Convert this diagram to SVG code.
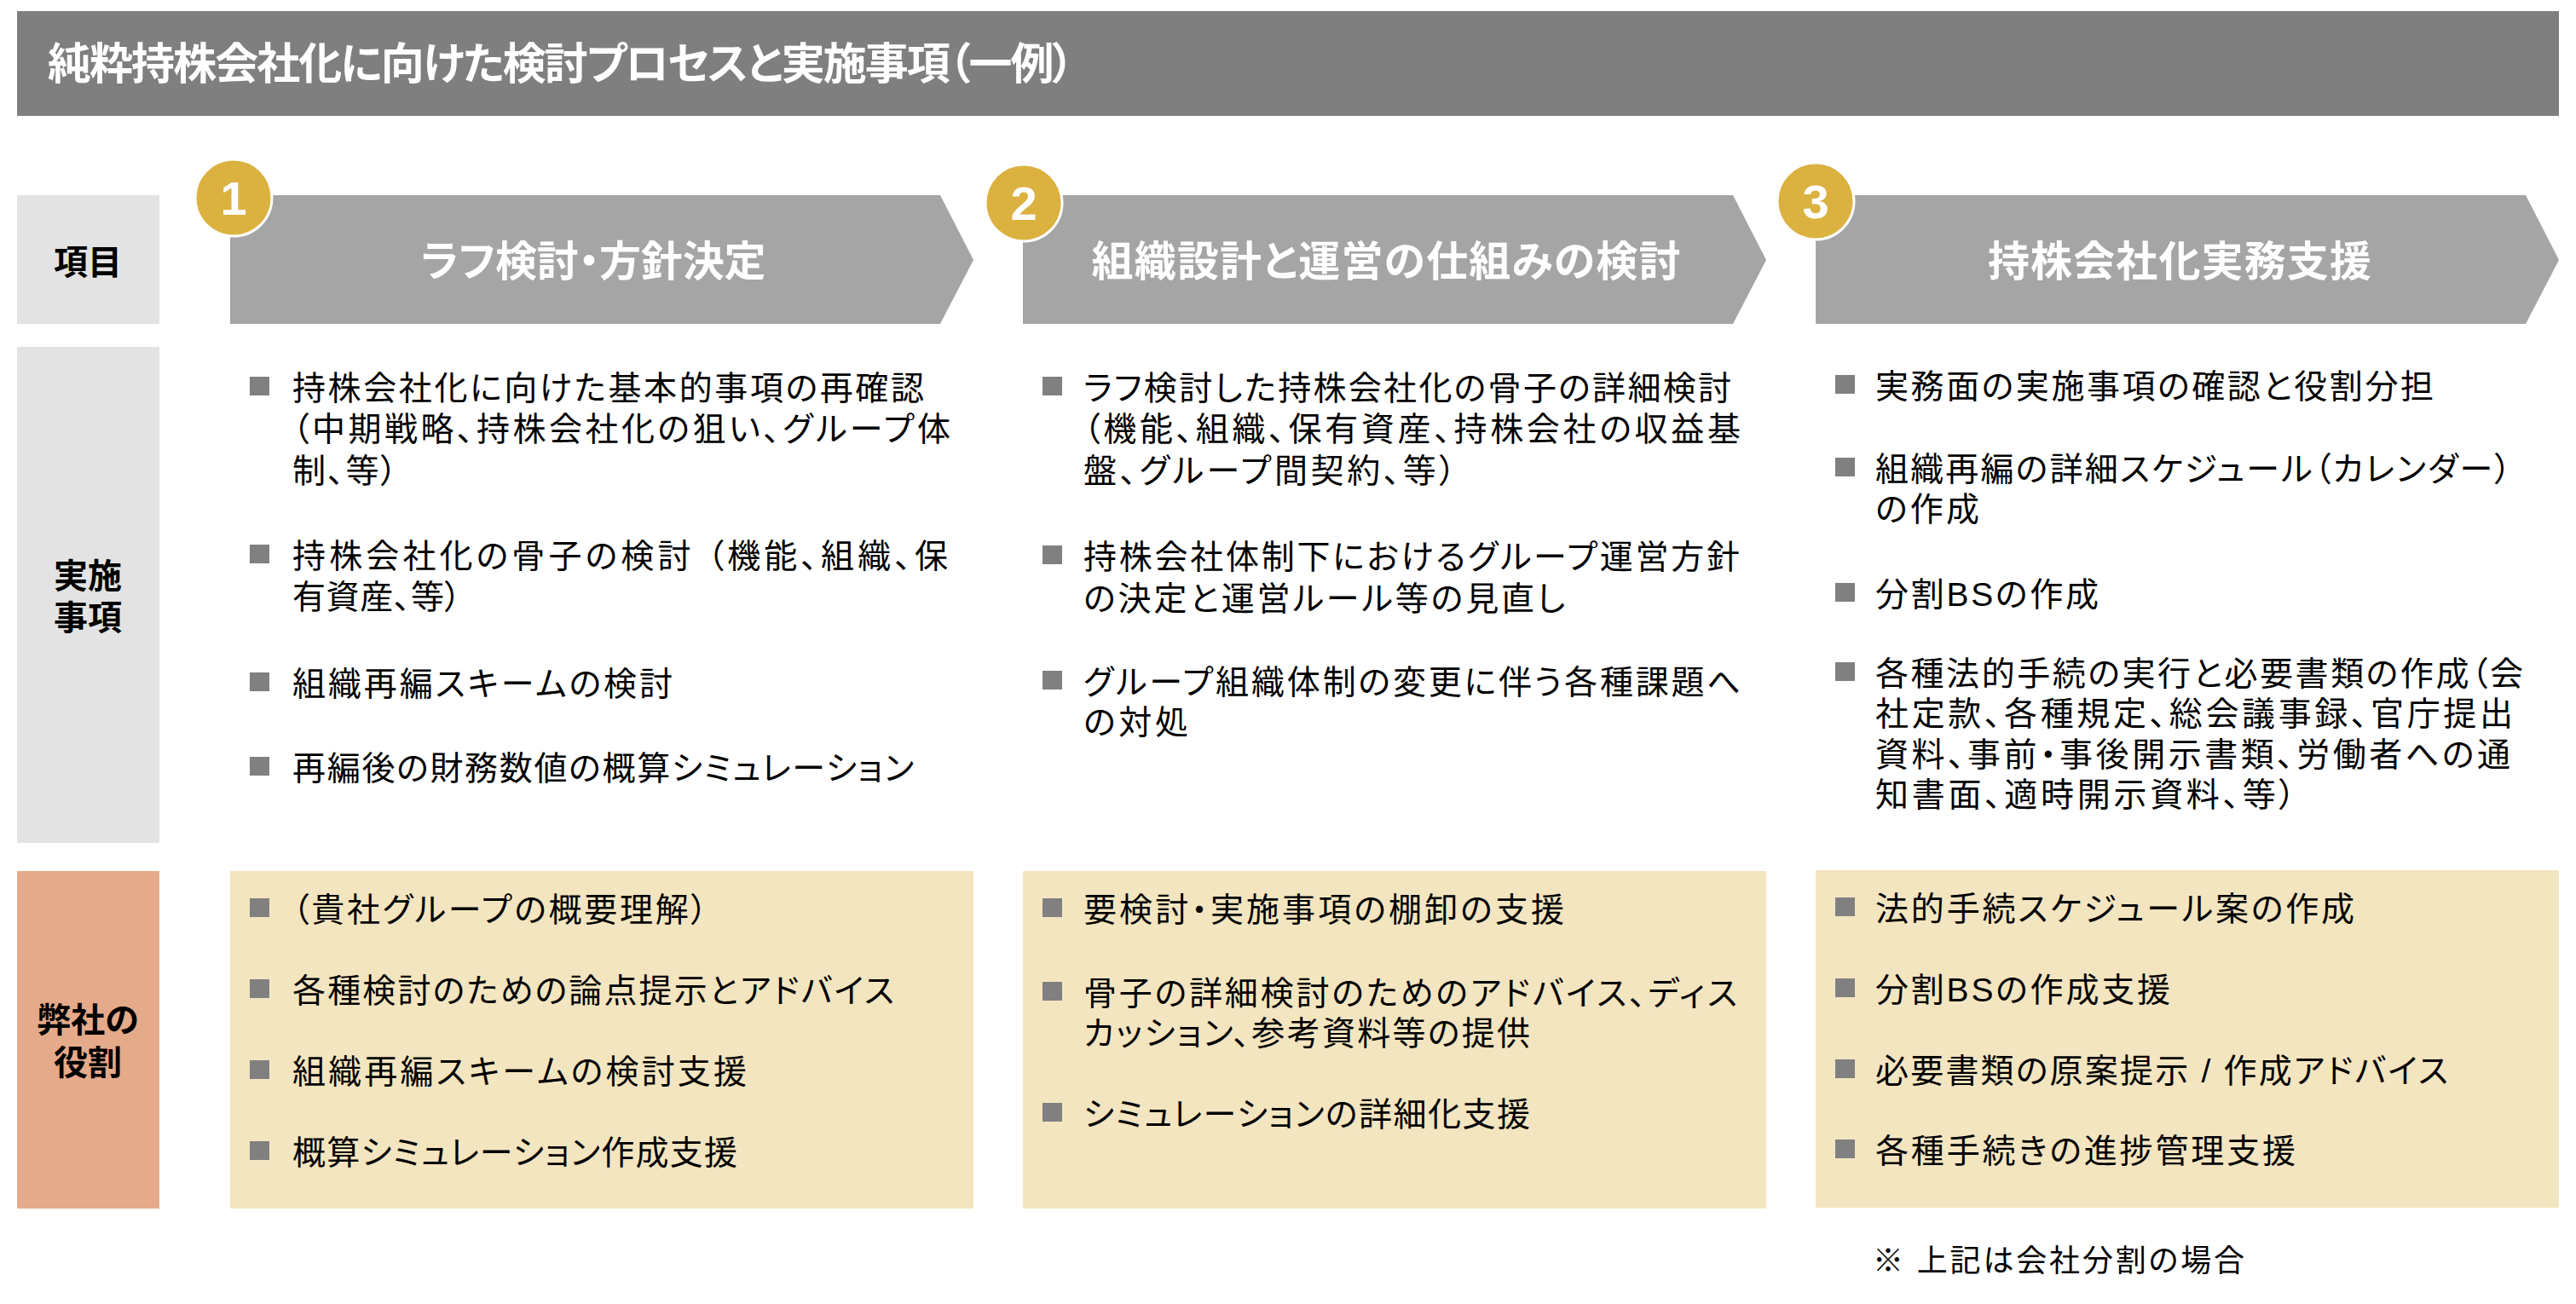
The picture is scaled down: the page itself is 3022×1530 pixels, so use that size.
<svg xmlns="http://www.w3.org/2000/svg" width="3022" height="1530" viewBox="0 0 3022 1530">
<style>
text{font-family:"Liberation Sans","Noto Sans CJK JP",sans-serif;font-feature-settings:"palt" 1}
.ttl{font-size:51px;font-weight:bold;fill:#fff}
.hd{font-size:49px;font-weight:bold;fill:#fff;text-anchor:middle}
.num{font-size:56px;font-weight:bold;fill:#fff;text-anchor:middle}
.lbl{font-size:40px;font-weight:bold;fill:#000;text-anchor:middle}
.b{font-size:39px;fill:#000}
.note{font-size:36px;fill:#000}
.bul{fill:#808080}
.chev{fill:#a5a5a5}
.circ{fill:#dbb13f;stroke:#fff;stroke-width:3}
.gbox{fill:#e3e3e3}
.sbox{fill:#e5aa8a}
.ybox{fill:#f3e5c0}
</style>
<g id="title">
<rect x="20" y="13" width="2982" height="123" fill="#7f7f7f"/>
<text class="ttl" x="56" y="93" textLength="1204" lengthAdjust="spacing">純粋持株会社化に向けた検討プロセスと実施事項（一例）</text>
</g>
<g id="row-labels">
<g id="label-item"><rect class="gbox" x="20" y="229" width="167" height="151"/><text class="lbl" x="103" y="322">項目</text></g>
<g id="label-tasks"><rect class="gbox" x="20" y="407" width="167" height="582"/><text class="lbl" x="103" y="690">実施</text><text class="lbl" x="103" y="739">事項</text></g>
<g id="label-role"><rect class="sbox" x="20" y="1022" width="167" height="396"/><text class="lbl" x="103" y="1211">弊社の</text><text class="lbl" x="103" y="1261">役割</text></g>
</g>
<g id="connectors"></g>
<g id="step1">
<path class="chev" d="M270,229 H1103 L1142,305 L1103,380 H270 Z"/>
<text class="hd" x="696" y="324" textLength="405" lengthAdjust="spacing">ラフ検討・方針決定</text>
<circle class="circ" cx="274" cy="232" r="45"/>
<text class="num" x="274" y="252">1</text>
</g>
<g id="step2">
<path class="chev" d="M1200,229 H2033 L2072,305 L2033,380 H1200 Z"/>
<text class="hd" x="1626" y="324" textLength="691" lengthAdjust="spacing">組織設計と運営の仕組みの検討</text>
<circle class="circ" cx="1201" cy="238" r="45"/>
<text class="num" x="1201" y="258">2</text>
</g>
<g id="step3">
<path class="chev" d="M2130,229 H2963 L3002,305 L2963,380 H2130 Z"/>
<text class="hd" x="2557" y="324" textLength="450" lengthAdjust="spacing">持株会社化実務支援</text>
<circle class="circ" cx="2130" cy="236" r="45"/>
<text class="num" x="2130" y="256">3</text>
</g>
<g id="tasks1">
<rect class="bul" x="293" y="442" width="23" height="22"/>
<text class="b" x="343" y="469" textLength="741" lengthAdjust="spacing">持株会社化に向けた基本的事項の再確認</text>
<text class="b" x="343" y="517" textLength="772" lengthAdjust="spacing">（中期戦略、持株会社化の狙い、グループ体</text>
<text class="b" x="343" y="566" textLength="123" lengthAdjust="spacing">制、等）</text>
<rect class="bul" x="293" y="639" width="23" height="22"/>
<text class="b" x="343" y="666" textLength="769" lengthAdjust="spacing">持株会社化の骨子の検討 （機能、組織、保</text>
<text class="b" x="343" y="714" textLength="198" lengthAdjust="spacing">有資産、等）</text>
<rect class="bul" x="293" y="789" width="23" height="22"/>
<text class="b" x="343" y="816" textLength="446" lengthAdjust="spacing">組織再編スキームの検討</text>
<rect class="bul" x="293" y="888" width="23" height="22"/>
<text class="b" x="343" y="915" textLength="729" lengthAdjust="spacing">再編後の財務数値の概算シミュレーション</text>
</g>
<g id="tasks2">
<rect class="bul" x="1223" y="442" width="23" height="22"/>
<text class="b" x="1271" y="469" textLength="760" lengthAdjust="spacing">ラフ検討した持株会社化の骨子の詳細検討</text>
<text class="b" x="1271" y="517" textLength="771" lengthAdjust="spacing">（機能、組織、保有資産、持株会社の収益基</text>
<text class="b" x="1271" y="566" textLength="437" lengthAdjust="spacing">盤、グループ間契約、等）</text>
<rect class="bul" x="1223" y="640" width="23" height="22"/>
<text class="b" x="1271" y="667" textLength="770" lengthAdjust="spacing">持株会社体制下におけるグループ運営方針</text>
<text class="b" x="1271" y="716" textLength="565" lengthAdjust="spacing">の決定と運営ルール等の見直し</text>
<rect class="bul" x="1223" y="787" width="23" height="22"/>
<text class="b" x="1271" y="814" textLength="771" lengthAdjust="spacing">グループ組織体制の変更に伴う各種課題へ</text>
<text class="b" x="1271" y="861" textLength="123" lengthAdjust="spacing">の対処</text>
</g>
<g id="tasks3">
<rect class="bul" x="2153" y="440" width="23" height="22"/>
<text class="b" x="2200" y="467" textLength="655" lengthAdjust="spacing">実務面の実施事項の確認と役割分担</text>
<rect class="bul" x="2153" y="537" width="23" height="22"/>
<text class="b" x="2200" y="564" textLength="746" lengthAdjust="spacing">組織再編の詳細スケジュール（カレンダー）</text>
<text class="b" x="2200" y="611" textLength="122" lengthAdjust="spacing">の作成</text>
<rect class="bul" x="2153" y="684" width="23" height="22"/>
<text class="b" x="2200" y="711" textLength="262" lengthAdjust="spacing">分割BSの作成</text>
<rect class="bul" x="2153" y="777" width="23" height="22"/>
<text class="b" x="2200" y="804" textLength="760" lengthAdjust="spacing">各種法的手続の実行と必要書類の作成（会</text>
<text class="b" x="2200" y="851" textLength="748" lengthAdjust="spacing">社定款、各種規定、総会議事録、官庁提出</text>
<text class="b" x="2200" y="899" textLength="745" lengthAdjust="spacing">資料、事前・事後開示書類、労働者への通</text>
<text class="b" x="2200" y="946" textLength="493" lengthAdjust="spacing">知書面、適時開示資料、等）</text>
</g>
<g id="role1">
<rect class="ybox" x="270" y="1022" width="872" height="396"/>
<rect class="bul" x="293" y="1054" width="23" height="22"/>
<text class="b" x="343" y="1081" textLength="487" lengthAdjust="spacing">（貴社グループの概要理解）</text>
<rect class="bul" x="293" y="1149" width="23" height="22"/>
<text class="b" x="343" y="1176" textLength="706" lengthAdjust="spacing">各種検討のための論点提示とアドバイス</text>
<rect class="bul" x="293" y="1244" width="23" height="22"/>
<text class="b" x="343" y="1271" textLength="533" lengthAdjust="spacing">組織再編スキームの検討支援</text>
<rect class="bul" x="293" y="1339" width="23" height="22"/>
<text class="b" x="343" y="1366" textLength="522" lengthAdjust="spacing">概算シミュレーション作成支援</text>
</g>
<g id="role2">
<rect class="ybox" x="1200" y="1022" width="872" height="396"/>
<rect class="bul" x="1223" y="1054" width="23" height="22"/>
<text class="b" x="1271" y="1081" textLength="564" lengthAdjust="spacing">要検討・実施事項の棚卸の支援</text>
<rect class="bul" x="1223" y="1152" width="23" height="22"/>
<text class="b" x="1271" y="1179" textLength="767" lengthAdjust="spacing">骨子の詳細検討のためのアドバイス、ディス</text>
<text class="b" x="1271" y="1226" textLength="524" lengthAdjust="spacing">カッション、参考資料等の提供</text>
<rect class="bul" x="1223" y="1294" width="23" height="22"/>
<text class="b" x="1271" y="1321" textLength="524" lengthAdjust="spacing">シミュレーションの詳細化支援</text>
</g>
<g id="role3">
<rect class="ybox" x="2130" y="1021" width="872" height="396"/>
<rect class="bul" x="2153" y="1053" width="23" height="22"/>
<text class="b" x="2200" y="1080" textLength="562" lengthAdjust="spacing">法的手続スケジュール案の作成</text>
<rect class="bul" x="2153" y="1148" width="23" height="22"/>
<text class="b" x="2200" y="1175" textLength="346" lengthAdjust="spacing">分割BSの作成支援</text>
<rect class="bul" x="2153" y="1243" width="23" height="22"/>
<text class="b" x="2200" y="1270" textLength="672" lengthAdjust="spacing">必要書類の原案提示 / 作成アドバイス</text>
<rect class="bul" x="2153" y="1337" width="23" height="22"/>
<text class="b" x="2200" y="1364" textLength="493" lengthAdjust="spacing">各種手続きの進捗管理支援</text>
</g>
<g id="footnote">
<text class="note" x="2197" y="1492" textLength="436" lengthAdjust="spacing">※ 上記は会社分割の場合</text>
</g>
</svg>
